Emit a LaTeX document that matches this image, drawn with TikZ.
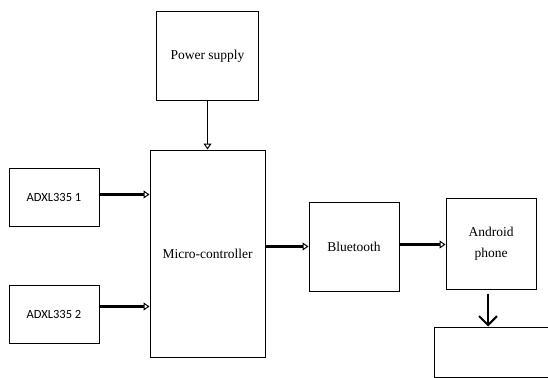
\documentclass[tikz,border=0pt]{standalone}
\usepackage{fontspec}
\setmainfont{Liberation Serif}
\newfontfamily\adxlfont{Carlito}
\usetikzlibrary{arrows.meta, positioning}

\begin{document}
\begin{tikzpicture}[
        x=1pt, y=-1pt,
        block/.style={rectangle, draw=black, line width=1pt, align=center, font=\fontsize{13.5}{15}\selectfont},
        sensor/.style={block, minimum width=90pt, minimum height=58pt, font=\adxlfont\fontsize{12.5}{14}\selectfont},
        arrow/.style={-{Triangle[open, length=6pt, width=8pt, line width=1pt]}, line width=2.1pt, color=black},
        downarrow/.style={-{Straight Barb[length=9pt, width=18pt, line width=2pt]}, line width=2.2pt}
    ]
    \useasboundingbox (0,0) rectangle (548,377);

    % Controller
    \node[block, minimum width=115pt, minimum height=207pt] (micro) at (207.5,253.5) {Micro-controller};

    % Supply
    \node[block, minimum width=102pt, minimum height=89pt] (power) [above=48pt of micro] {Power supply};

    % Sensors
    \node[sensor] (adxl1) [above left=26.5pt and 50pt of micro.west] {ADXL335 1};
    \node[sensor] (adxl2) [below left=31.5pt and 50pt of micro.west] {ADXL335 2};

    % Wireless link
    \node[block, minimum width=90pt, minimum height=89pt] (bluetooth) [right=43pt of micro, yshift=7pt] {Bluetooth};
    \node[block, minimum width=90pt, minimum height=91pt] (android) [right=46pt of bluetooth, yshift=3pt] {Android\\[6pt]phone};

    % Output
    \node[block, minimum width=120pt, minimum height=50pt] (output) [below=37pt of android, xshift=3pt] {};

    % Connections
    \draw[arrow, line width=1.6pt] (power.south) -- (power.south |- micro.north);
    \draw[arrow] ([yshift=3pt]adxl1.east) -- ([yshift=3pt]adxl1.east -| micro.west);
    \draw[arrow] ([yshift=8pt]adxl2.east) -- ([yshift=8pt]adxl2.east -| micro.west);
    \draw[arrow] (micro.east |- bluetooth.west) -- (bluetooth.west);
    \draw[arrow] ([yshift=2pt]bluetooth.east) -- ([yshift=2pt]bluetooth.east -| android.west);
    \draw[downarrow, shorten <=4pt] ([xshift=-3pt]android.south) -- ([xshift=-3pt]android.south |- output.north);

\end{tikzpicture}
\end{document}
